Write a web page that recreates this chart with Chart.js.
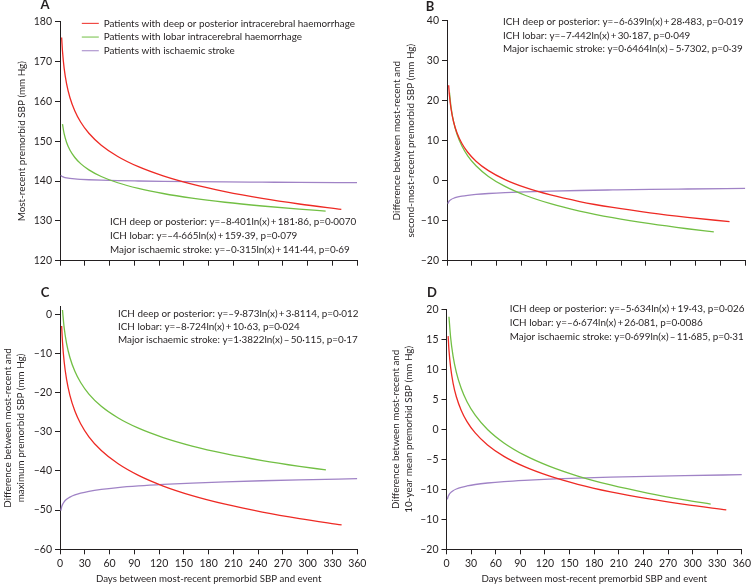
<!DOCTYPE html>
<html>
<head>
<meta charset="utf-8">
<script src="https://cdn.jsdelivr.net/npm/chart.js@4.4.1/dist/chart.umd.min.js"></script>
<style>
  body { margin: 0; background: #fff; }
  #wrap { position: relative; width: 754px; height: 585px; overflow: hidden; }
  #wrap canvas { position: absolute; }
</style>
</head>
<body>
<div id="wrap">
  <canvas id="cA" width="377" height="290" style="left:0;top:0"></canvas>
  <canvas id="cB" width="377" height="290" style="left:377px;top:0"></canvas>
  <canvas id="cC" width="377" height="305" style="left:0;top:280px"></canvas>
  <canvas id="cD" width="377" height="305" style="left:377px;top:280px"></canvas>
</div>
<script>
const redDays = [2, 3, 5, 8, 12, 18, 25, 35, 50, 70, 95, 125, 160, 200, 245, 290, 341];
const greenDays = [3, 5, 8, 12, 18, 25, 35, 50, 70, 95, 125, 160, 200, 245, 290, 322];
const purpleDays = [1, 2, 3, 5, 8, 12, 18, 25, 35, 50, 70, 95, 125, 160, 200, 245, 290, 360];

// A: most-recent premorbid SBP
const aRed = [176.04, 172.63, 168.34, 164.39, 160.98, 157.58, 154.82, 151.99, 149.00, 146.17, 143.60, 141.30, 139.22, 137.35, 135.64, 134.23, 132.87];
const aGreen = [154.27, 151.88, 149.69, 147.80, 145.91, 144.37, 142.80, 141.14, 139.57, 138.15, 136.87, 135.71, 134.67, 133.73, 132.94, 132.45];
const aPurple = [141.44, 141.22, 141.09, 140.93, 140.79, 140.66, 140.53, 140.43, 140.32, 140.21, 140.10, 140.01, 139.92, 139.84, 139.77, 139.71, 139.65, 139.59];

// B: most-recent minus second-most-recent
const bRed = [23.88, 21.19, 17.80, 14.68, 11.99, 9.29, 7.11, 4.88, 2.51, 0.28, -1.75, -3.57, -5.21, -6.69, -8.04, -9.16, -10.24];
const bGreen = [22.01, 18.21, 14.71, 11.69, 8.68, 6.23, 3.73, 1.07, -1.43, -3.70, -5.75, -7.58, -9.24, -10.75, -12.01, -12.79];
const bPurple = [-5.73, -5.28, -5.02, -4.69, -4.39, -4.12, -3.86, -3.65, -3.43, -3.20, -2.98, -2.79, -2.61, -2.45, -2.31, -2.17, -2.07, -1.93];

// C: most-recent minus maximum
const cRed = [-3.03, -7.03, -12.08, -16.72, -20.72, -24.73, -27.97, -31.29, -34.81, -38.13, -41.15, -43.86, -46.30, -48.50, -50.50, -52.17, -53.77];
const cGreen = [1.05, -3.41, -7.51, -11.05, -14.59, -17.45, -20.39, -23.50, -26.43, -29.10, -31.49, -33.65, -35.59, -37.36, -38.83, -39.75];
const cPurple = [-50.12, -49.16, -48.60, -47.89, -47.24, -46.68, -46.12, -45.67, -45.20, -44.71, -44.24, -43.82, -43.44, -43.10, -42.79, -42.51, -42.28, -41.98];

// D: most-recent minus 10-year mean
const dRed = [15.53, 13.24, 10.36, 7.71, 5.43, 3.15, 1.29, -0.60, -2.61, -4.51, -6.23, -7.77, -9.16, -10.42, -11.56, -12.51, -13.43];
const dGreen = [18.75, 15.34, 12.20, 9.50, 6.79, 4.60, 2.35, -0.03, -2.27, -4.31, -6.14, -7.79, -9.28, -10.63, -11.76, -12.46];
const dPurple = [-11.69, -11.20, -10.92, -10.56, -10.23, -9.95, -9.66, -9.44, -9.20, -8.95, -8.71, -8.50, -8.31, -8.14, -7.98, -7.84, -7.72, -7.57];

const seriesNames = ['Patients with deep or posterior intracerebral haemorrhage', 'Patients with lobar intracerebral haemorrhage', 'Patients with ischaemic stroke'];

const xTicks = [0, 30, 60, 90, 120, 150, 180, 210, 240, 270, 300, 330, 360];
const aYTicks = [120, 130, 140, 150, 160, 170, 180];
const bYTicks = [-20, -10, 0, 10, 20, 30, 40];
const cYTicks = [-60, -50, -40, -30, -20, -10, 0];
const dYTicks = [-20, -15, -10, -5, 0, 5, 10, 15, 20];
const dYLabels = ['–20', '–10', '–10', '–5', '0', '5', '10', '15', '20']; // as printed in the figure

const eqA = ['ICH deep or posterior: y=–8·401ln(x)\u2009+\u2009181·86, p=0·0070', 'ICH lobar: y=–4·665ln(x)\u2009+\u2009159·39, p=0·079', 'Major ischaemic stroke: y=–0·315ln(x)\u2009+\u2009141·44, p=0·69'];
const eqB = ['ICH deep or posterior: y=–6·639ln(x)\u2009+\u200928·483, p=0·019', 'ICH lobar: y=–7·442ln(x)\u2009+\u200930·187, p=0·049', 'Major ischaemic stroke: y=0·6464ln(x)\u2009–\u20095·7302, p=0·39'];
const eqC = ['ICH deep or posterior: y=–9·873ln(x)\u2009+\u20093·8114, p=0·012', 'ICH lobar: y=–8·724ln(x)\u2009+\u200910·63, p=0·024', 'Major ischaemic stroke: y=1·3822ln(x)\u2009–\u200950·115, p=0·17'];
const eqD = ['ICH deep or posterior: y=–5·634ln(x)\u2009+\u200919·43, p=0·026', 'ICH lobar: y=–6·674ln(x)\u2009+\u200926·081, p=0·0086', 'Major ischaemic stroke: y=0·699ln(x)\u2009–\u200911·685, p=0·31'];

const FONT = "Lato, 'Open Sans', sans-serif";
const INK = '#231f20';
const colours = ['#ee2a24', '#72bf44', '#a083c6'];

function pts(days, vals) {
  return days.map((d, i) => ({ x: d, y: vals[i] }));
}

function minus(v) {
  return v < 0 ? '–' + Math.abs(v) : String(v);
}

// panel letter, equations and the in-plot legend placement
const notes = {
  id: 'notes',
  afterLayout(chart, args, opts) {
    if (opts.legendAt && chart.legend) {
      const lg = chart.legend;
      lg.left = opts.legendAt[0];
      lg.top = opts.legendAt[1];
      lg.right = lg.left + 300;
      lg.bottom = lg.top + 60;
      lg.width = 300;
      lg.height = 60;
    }
  },
  afterDraw(chart, args, opts) {
    const ctx = chart.ctx;
    ctx.save();
    ctx.fillStyle = INK;
    ctx.textBaseline = 'middle';
    ctx.textAlign = 'center';
    ctx.font = 'bold 13px ' + FONT;
    ctx.fillText(opts.letter, opts.letterAt[0], opts.letterAt[1]);
    ctx.textAlign = 'left';
    ctx.font = '9.9px ' + FONT;
    opts.lines.forEach((t, i) => ctx.fillText(t, opts.linesAt[0], opts.linesAt[1] + i * opts.gap));
    ctx.restore();
  }
};

function makeChart(id, cfg) {
  const datasets = [
    { label: seriesNames[0], data: pts(redDays, cfg.red), borderColor: colours[0], backgroundColor: colours[0] },
    { label: seriesNames[1], data: pts(greenDays, cfg.green), borderColor: colours[1], backgroundColor: colours[1] },
    { label: seriesNames[2], data: pts(purpleDays, cfg.purple), borderColor: colours[2], backgroundColor: colours[2] }
  ];
  return new Chart(document.getElementById(id), {
    type: 'line',
    data: { datasets: datasets },
    plugins: [notes],
    options: {
      responsive: false,
      animation: false,
      events: [],
      layout: { padding: cfg.padding },
      elements: {
        point: { radius: 0 },
        line: { borderWidth: 1.3, cubicInterpolationMode: 'monotone', fill: false }
      },
      scales: {
        x: {
          type: 'linear',
          min: 0,
          max: 360,
          afterBuildTicks: s => { s.ticks = xTicks.map(v => ({ value: v })); },
          afterFit: s => { s.height = cfg.xHeight; },
          grid: { display: true, drawOnChartArea: false, drawTicks: true, tickLength: 5, color: INK, lineWidth: 1 },
          border: { display: true, color: INK, width: 1 },
          ticks: { display: cfg.xLabels, color: INK, padding: 3, maxRotation: 0, font: { family: FONT, size: 10.5 } },
          title: {
            display: cfg.xLabels,
            text: 'Days between most-recent premorbid SBP and event',
            color: INK,
            padding: { top: 0, bottom: 0 },
            font: { family: FONT, size: 9.7 }
          }
        },
        y: {
          type: 'linear',
          min: cfg.yMin,
          max: cfg.yMax,
          afterBuildTicks: s => { s.ticks = cfg.yTicks.map(v => ({ value: v })); },
          afterFit: s => { s.width = cfg.yWidth; },
          grid: { display: true, drawOnChartArea: false, drawTicks: true, tickLength: 5, color: INK, lineWidth: 1 },
          border: { display: true, color: INK, width: 1 },
          ticks: {
            color: INK,
            padding: 3,
            font: { family: FONT, size: 10.5 },
            callback: cfg.yLabels ? (v, i) => cfg.yLabels[i] : v => minus(v)
          },
          title: {
            display: true,
            text: cfg.yTitle,
            color: INK,
            padding: { top: cfg.titlePad, bottom: 0 },
            font: { family: FONT, size: 9.9, lineHeight: 1.35 }
          }
        }
      },
      plugins: {
        tooltip: { enabled: false },
        legend: {
          display: cfg.legend,
          position: 'chartArea',
          align: 'start',
          labels: {
            color: INK,
            font: { family: FONT, size: 9.9 },
            usePointStyle: true,
            pointStyle: 'line',
            pointStyleWidth: 17,
            padding: 3.8
          }
        },
        notes: {
          letter: cfg.letter,
          letterAt: cfg.letterAt,
          lines: cfg.eq,
          linesAt: cfg.eqAt,
          gap: cfg.eqGap,
          legendAt: cfg.legend ? [78, 14.6] : null
        }
      }
    }
  });
}

makeChart('cA', {
  red: aRed, green: aGreen, purple: aPurple,
  padding: { left: 0, top: 21.7, right: 20, bottom: 0 },
  xHeight: 29.3, yWidth: 60, yMin: 120, yMax: 180, yTicks: aYTicks,
  yTitle: 'Most-recent premorbid SBP (mm Hg)', titlePad: 15.3,
  xLabels: false, legend: true,
  letter: 'A', letterAt: [45, 5],
  eq: eqA, eqAt: [110, 221.7], eqGap: 14
});

makeChart('cB', {
  red: bRed, green: bGreen, purple: bPurple,
  padding: { left: 0, top: 20.7, right: 8.7, bottom: 0 },
  xHeight: 29.3, yWidth: 70, yMin: -20, yMax: 40, yTicks: bYTicks,
  yTitle: ['Difference between most-recent and', 'second-most-recent premorbid SBP (mm Hg)'], titlePad: 13.3,
  xLabels: false, legend: false,
  letter: 'B', letterAt: [53, 7],
  eq: eqB, eqAt: [126, 22.3], eqGap: 13.5
});

makeChart('cC', {
  red: cRed, green: cGreen, purple: cPurple,
  padding: { left: 0, top: 26.7, right: 19.7, bottom: 0 },
  xHeight: 35.7, yWidth: 60, yMin: -60, yMax: 1.9, yTicks: cYTicks,
  yTitle: ['Difference between most-recent and', 'maximum premorbid SBP (mm Hg)'], titlePad: 0.8,
  xLabels: true, legend: false,
  letter: 'C', letterAt: [45, 13],
  eq: eqC, eqAt: [118, 34], eqGap: 13
});

makeChart('cD', {
  red: dRed, green: dGreen, purple: dPurple,
  padding: { left: 0, top: 29.3, right: 8, bottom: 0 },
  xHeight: 35.7, yWidth: 69.5, yMin: -20, yMax: 20, yTicks: dYTicks, yLabels: dYLabels,
  yTitle: ['Difference between most-recent and', '10-year mean premorbid SBP (mm Hg)'], titlePad: 12,
  xLabels: true, legend: false,
  letter: 'D', letterAt: [55, 13],
  eq: eqD, eqAt: [132.7, 29.3], eqGap: 13.7
});
</script>
</body>
</html>
